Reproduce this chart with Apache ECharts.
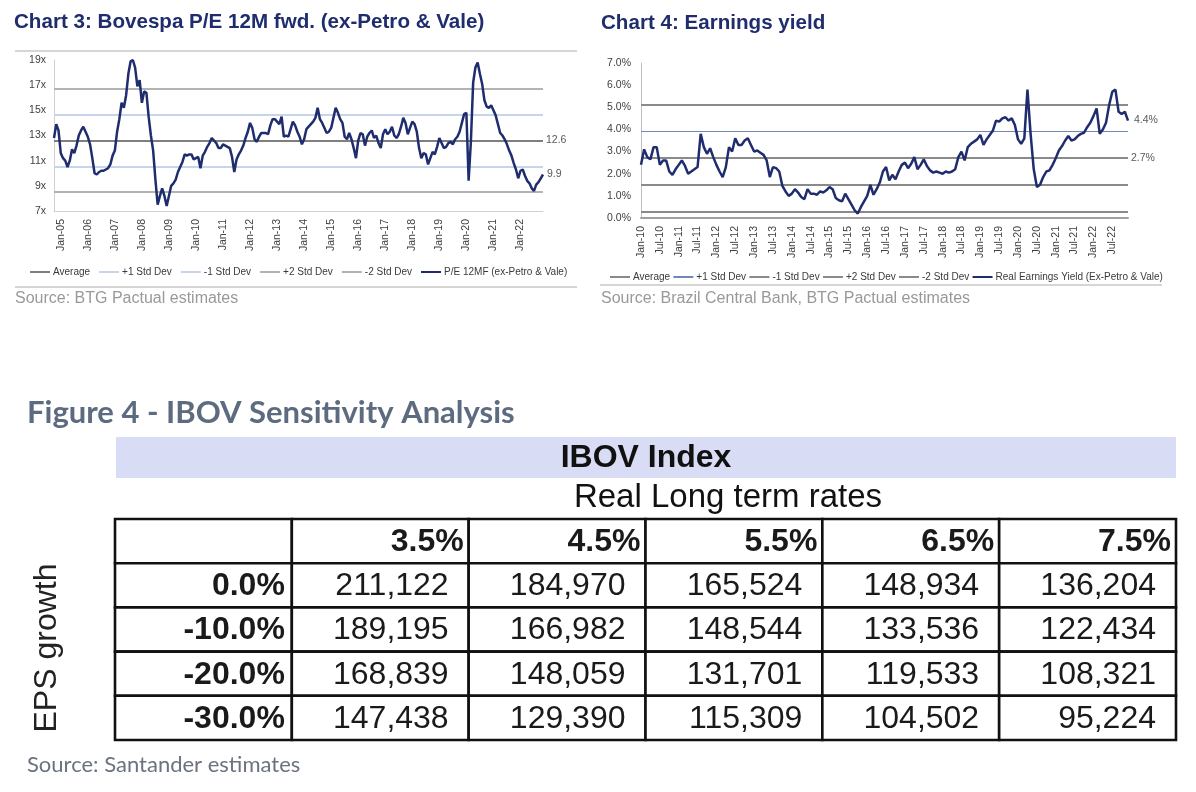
<!DOCTYPE html>
<html>
<head>
<meta charset="utf-8">
<script src="https://cdn.jsdelivr.net/npm/echarts@6/dist/echarts.min.js"></script>
<style>
    html, body, #main {
        width: 100%;
        height: 100%;
        margin: 0;
        background: #fff;
    }
</style>
</head>
<body>
<div id="main"></div>
<script type="text/javascript">
var ARIAL = '"Liberation Sans", Arial, sans-serif';
var NAVY = '#1f2d6e';

// Chart 3: monthly P/E 12M fwd, Oct-04 .. Nov-22
var peValues = [
    12.8, 13.9, 13.4, 11.6, 11.2, 11.0, 10.5, 11.0, 11.9, 11.6, 12.2, 13.0,
    13.4, 13.7, 13.3, 12.9, 12.3, 11.2, 10.0, 9.9, 10.1, 10.2, 10.2, 10.3,
    10.4, 10.7, 11.4, 11.8, 13.3, 14.3, 15.6, 15.2, 16.2, 17.9, 18.9, 19.0,
    18.4, 16.9, 17.4, 15.6, 16.5, 16.4, 14.5, 13.0, 11.8, 9.5, 7.5, 8.2,
    8.8, 8.2, 7.4, 8.2, 9.0, 9.2, 9.5, 10.1, 10.5, 10.9, 11.5, 11.4,
    11.5, 11.5, 11.1, 11.2, 11.3, 10.4, 11.4, 11.7, 12.1, 12.4, 12.8, 12.6,
    12.4, 12.0, 12.0, 12.3, 12.2, 12.1, 12.0, 11.3, 10.1, 11.1, 11.5, 11.8,
    12.2, 12.8, 13.3, 14.0, 13.6, 12.7, 12.5, 12.9, 13.2, 13.2, 13.2, 13.1,
    13.8, 14.3, 14.3, 14.1, 13.9, 14.5, 12.9, 13.0, 12.9, 13.5, 14.1, 13.8,
    13.3, 12.9, 12.3, 12.7, 13.5, 13.7, 13.9, 14.1, 14.4, 15.2, 14.3, 14.0,
    13.6, 13.2, 13.3, 13.6, 14.4, 15.2, 14.8, 14.3, 14.0, 12.9, 12.7, 13.2,
    12.7, 12.0, 11.2, 12.6, 13.2, 13.1, 12.2, 12.9, 13.2, 13.4, 12.8, 13.0,
    12.4, 12.0, 13.1, 13.5, 13.1, 13.3, 13.7, 13.0, 12.8, 13.1, 13.7, 14.4,
    14.0, 13.1, 13.6, 14.1, 13.9, 13.3, 12.0, 11.2, 11.6, 11.5, 10.7, 11.2,
    11.7, 11.5, 12.1, 12.8, 12.4, 12.0, 12.1, 12.4, 12.5, 12.3, 12.7, 12.9,
    13.3, 14.0, 14.7, 14.8, 9.4, 12.5, 17.2, 18.4, 18.8, 17.9, 17.1, 15.8,
    15.3, 15.2, 15.4, 15.0, 14.6, 13.9, 13.2, 13.0, 12.7, 12.3, 11.8, 11.4,
    10.8, 10.3, 9.6, 10.2, 10.3, 9.8, 9.4, 9.2, 8.8, 8.6, 9.1, 9.3,
    9.6, 9.9
];

// Chart 4: monthly real earnings yield (%), Jan-10 .. Dec-22
var eyValues = [
    2.4, 3.1, 2.75, 2.65, 3.2, 3.2, 2.4, 2.6, 2.6, 2.1, 1.95, 2.2,
    2.4, 2.6, 2.35, 2.0, 2.1, 2.2, 2.3, 3.8, 3.2, 2.9, 3.15, 2.75,
    2.4, 2.1, 1.85, 2.3, 3.2, 3.0, 3.6, 3.3, 3.3, 3.5, 3.6, 3.3,
    3.0, 3.05, 2.95, 2.85, 2.6, 1.85, 2.3, 2.25, 2.1, 1.45, 1.2, 1.0,
    1.1, 1.3, 1.15, 0.95, 0.85, 1.3, 1.1, 1.1, 1.05, 1.2, 1.15, 1.25,
    1.4, 1.3, 0.9, 0.8, 0.75, 1.1, 0.85, 0.6, 0.35, 0.2, 0.5, 0.75,
    1.0, 1.5, 1.05, 1.3, 1.6, 2.1, 2.3, 1.7, 1.95, 1.75, 2.1, 2.4,
    2.5, 2.25, 2.45, 2.75, 2.2, 2.4, 2.65, 2.35, 2.15, 2.05, 2.1, 2.05,
    2.0, 2.1, 2.05, 2.1, 2.2, 2.75, 3.0, 2.6, 3.2, 3.35, 3.45, 3.55,
    3.75, 3.3, 3.55, 3.75, 3.95, 4.4, 4.35, 4.5, 4.55, 4.4, 4.5, 4.2,
    3.55, 3.35, 3.6, 5.8, 3.8, 2.2, 1.4, 1.5, 1.85, 2.1, 2.15, 2.4,
    2.7, 3.05, 3.25, 3.5, 3.7, 3.5, 3.55, 3.7, 3.8, 3.85, 4.1, 4.3,
    4.6, 4.95, 3.8, 4.0, 4.3, 5.1, 5.7, 5.8, 4.8, 4.7, 4.8, 4.4
];

// average and standard deviation bands
var bandNames = ['Average', '+1 Std Dev', '-1 Std Dev', '+2 Std Dev', '-2 Std Dev'];
var peBandLevels = [12.6, 14.65, 10.55, 16.7, 8.5];
var eyBandLevels = [2.7, 3.9, 1.5, 5.1, 0.3];

// Figure 4 table
var rateCols = ['3.5%', '4.5%', '5.5%', '6.5%', '7.5%'];
var epsRows = ['0.0%', '-10.0%', '-20.0%', '-30.0%'];
var ibovValues = [
    [211122, 184970, 165524, 148934, 136204],
    [189195, 166982, 148544, 133536, 122434],
    [168839, 148059, 131701, 119533, 108321],
    [147438, 129390, 115309, 104502, 95224]
];

var MON = ['Jan', 'Feb', 'Mar', 'Apr', 'May', 'Jun', 'Jul', 'Aug', 'Sep', 'Oct', 'Nov', 'Dec'];
function monthCats(year, month, count) {
    var out = [];
    for (var i = 0; i < count; i++) {
        var m = (month + i) % 12;
        var y = year + Math.floor((month + i) / 12);
        out.push(MON[m] + '-' + String(y).slice(2));
    }
    return out;
}
var peCats = monthCats(2004, 9, peValues.length);
var eyCats = monthCats(2010, 0, eyValues.length);

var tableCells = [[0, 0, '', 'head']];
rateCols.forEach(function (r, c) { tableCells.push([c + 1, 0, r, 'head']); });
epsRows.forEach(function (e, r) {
    tableCells.push([0, r + 1, e, 'head']);
    ibovValues[r].forEach(function (v, c) {
        tableCells.push([c + 1, r + 1, v.toLocaleString('en-US'), 'value']);
    });
});

function bandSeries(levels, colors, widths, axis, suffix, fmt) {
    return bandNames.map(function (name, i) {
        return {
            name: name + suffix,
            type: 'line',
            xAxisIndex: axis,
            yAxisIndex: axis,
            data: [],
            symbol: 'none',
            color: colors[i],
            lineStyle: { width: widths[i], color: colors[i] },
            markLine: {
                silent: true,
                symbol: 'none',
                lineStyle: { color: colors[i], width: widths[i], type: 'solid' },
                label: i === 0 ? {
                    show: true, position: 'end', distance: 3,
                    formatter: function (p) { return fmt(p.value); },
                    color: '#595959', fontSize: 10.5, fontFamily: ARIAL
                } : { show: false },
                data: [{ yAxis: levels[i] }]
            }
        };
    });
}

function renderCell(params, api) {
    var cell = tableCells[params.dataIndex];
    var c = api.coord([api.value(0), api.value(1)]);
    var size = api.size([1, 1]);
    var left = c[0] - size[0] / 2, top = c[1] - size[1] / 2;
    var isValue = cell[3] === 'value';
    var pad = isValue ? 20 : (cell[1] === 0 ? 5 : 7);
    return {
        type: 'group',
        children: [{
            type: 'rect',
            shape: { x: left, y: top, width: size[0], height: size[1] },
            style: { fill: '#fff', stroke: '#111', lineWidth: 2.6 }
        }, {
            type: 'text',
            style: {
                text: cell[2],
                x: left + size[0] - pad,
                y: c[1] + 1,
                align: 'right',
                verticalAlign: 'middle',
                font: (isValue ? '' : 'bold ') + '32px ' + ARIAL,
                fill: '#1a1a1a'
            }
        }]
    };
}

var chart = echarts.init(document.getElementById('main'));

var axisLabel = { fontSize: 10.5, color: '#404040', fontFamily: ARIAL };
var legendText = { fontFamily: ARIAL, fontSize: 10, color: '#3a3a3a', padding: [0, 0, 0, -2] };

var option = {
    animation: false,
    backgroundColor: '#fff',
    title: [{
        text: 'Chart 3: Bovespa P/E 12M fwd. (ex-Petro & Vale)',
        left: 14, top: 12, padding: 0,
        textStyle: { fontFamily: ARIAL, fontWeight: 'bold', fontSize: 20.6, color: NAVY }
    }, {
        text: 'Chart 4: Earnings yield',
        left: 601, top: 13, padding: 0,
        textStyle: { fontFamily: ARIAL, fontWeight: 'bold', fontSize: 20.6, color: NAVY }
    }, {
        text: 'Source: BTG Pactual estimates',
        left: 15, top: 291, padding: 0,
        textStyle: { fontFamily: ARIAL, fontWeight: 'normal', fontSize: 16, color: '#999999' }
    }, {
        text: 'Source: Brazil Central Bank, BTG Pactual estimates',
        left: 601, top: 291, padding: 0,
        textStyle: { fontFamily: ARIAL, fontWeight: 'normal', fontSize: 16, color: '#999999' }
    }, {
        text: 'Figure 4 - IBOV Sensitivity Analysis',
        left: 27, top: 397, padding: 0,
        textStyle: { fontFamily: 'Lato, "Open Sans", sans-serif', fontWeight: 'bold', fontSize: 31, color: '#5d6b80' }
    }, {
        text: 'Source: Santander estimates',
        left: 27, top: 754, padding: 0,
        textStyle: { fontFamily: 'Lato, "Open Sans", sans-serif', fontWeight: 'normal', fontSize: 22, color: '#6b7280' }
    }],
    legend: [{
        left: 25, top: 262, width: 580, itemWidth: 20, itemHeight: 2, itemGap: 9,
        icon: 'rect', selectedMode: false,
        textStyle: legendText,
        data: bandNames.concat(['P/E 12MF (ex-Petro & Vale)'])
    }, {
        left: 605, top: 267, width: 590, itemWidth: 20, itemHeight: 2, itemGap: 3.3,
        icon: 'rect', selectedMode: false,
        formatter: function (name) { return name.trim(); },
        textStyle: legendText,
        data: bandNames.map(function (n) { return n + ' '; })
            .concat(['Real Earnings Yield (Ex-Petro & Vale)'])
    }],
    grid: [
        { left: 54, top: 60, width: 489, height: 151 },
        { left: 641, top: 63, width: 487, height: 155 },
        { left: 115, top: 519, width: 1061, height: 221 }
    ],
    xAxis: [{
        type: 'category', gridIndex: 0, data: peCats, boundaryGap: false,
        axisLine: { lineStyle: { color: '#d0d0d0', width: 1 } },
        axisTick: { show: false },
        axisLabel: Object.assign({
            rotate: 90, margin: 8,
            interval: function (i, v) { return v.indexOf('Jan') === 0; }
        }, axisLabel)
    }, {
        type: 'category', gridIndex: 1, data: eyCats, boundaryGap: false,
        axisLine: { lineStyle: { color: '#a0a0a0', width: 2 } },
        axisTick: { show: false },
        axisLabel: Object.assign({
            rotate: 90, margin: 8,
            interval: function (i) { return i % 6 === 0; }
        }, axisLabel)
    }, {
        type: 'category', gridIndex: 2, data: [''].concat(rateCols), show: false
    }],
    yAxis: [{
        type: 'value', gridIndex: 0, min: 7, max: 19, interval: 2,
        axisLine: { show: true, lineStyle: { color: '#d0d0d0' } },
        axisTick: { show: false },
        splitLine: { show: false },
        axisLabel: Object.assign({ formatter: '{value}x', margin: 8 }, axisLabel)
    }, {
        type: 'value', gridIndex: 1, min: 0, max: 7, interval: 1,
        axisLine: { show: true, lineStyle: { color: '#bfbfbf' } },
        axisTick: { show: false },
        splitLine: { show: false },
        axisLabel: Object.assign({
            formatter: function (v) { return v.toFixed(1) + '%'; }, margin: 10
        }, axisLabel)
    }, {
        type: 'category', gridIndex: 2, data: [''].concat(epsRows), inverse: true, show: false
    }],
    graphic: [
        { type: 'line', shape: { x1: 15, y1: 51, x2: 577, y2: 51 }, style: { stroke: '#c8c8c8', lineWidth: 1.5 } },
        { type: 'line', shape: { x1: 15, y1: 287, x2: 577, y2: 287 }, style: { stroke: '#c8c8c8', lineWidth: 1.5 } },
        { type: 'line', shape: { x1: 600, y1: 285, x2: 1162, y2: 285 }, style: { stroke: '#c8c8c8', lineWidth: 1.5 } },
        { type: 'rect', shape: { x: 116, y: 437, width: 1060, height: 41 }, style: { fill: '#d9dcf5' } },
        { type: 'text', x: 646, y: 458, style: { text: 'IBOV Index', align: 'center', verticalAlign: 'middle', font: 'bold 32px ' + ARIAL, fill: '#111' } },
        { type: 'text', x: 728, y: 498, style: { text: 'Real Long term rates', align: 'center', verticalAlign: 'middle', font: '33px ' + ARIAL, fill: '#111' } },
        { type: 'text', x: 47, y: 648, rotation: Math.PI / 2, style: { text: 'EPS growth', align: 'center', verticalAlign: 'middle', font: '32px ' + ARIAL, fill: '#222' } }
    ],
    series: bandSeries(peBandLevels, ['#7f7f7f', '#c6d4ee', '#c6d4ee', '#b3b3b3', '#b3b3b3'],
        [2, 2, 2, 2, 2], 0, '', function (v) { return v.toFixed(1); })
        .concat([{
            name: 'P/E 12MF (ex-Petro & Vale)',
            type: 'line', xAxisIndex: 0, yAxisIndex: 0, z: 5,
            data: peValues, symbol: 'none', color: NAVY,
            lineStyle: { width: 2.5, color: NAVY },
            endLabel: {
                show: true, distance: 4, color: '#595959', fontSize: 10.5, fontFamily: ARIAL,
                formatter: function (p) { return p.value.toFixed(1); }
            }
        }])
        .concat(bandSeries(eyBandLevels, ['#8a8a8a', '#6f88b8', '#8a8a8a', '#8a8a8a', '#8a8a8a'],
            [2, 1.2, 2, 2, 2], 1, ' ', function (v) { return v.toFixed(1) + '%'; }))
        .concat([{
            name: 'Real Earnings Yield (Ex-Petro & Vale)',
            type: 'line', xAxisIndex: 1, yAxisIndex: 1, z: 5,
            data: eyValues, symbol: 'none', color: NAVY,
            lineStyle: { width: 2.5, color: NAVY },
            endLabel: {
                show: true, distance: 6, color: '#595959', fontSize: 10.5, fontFamily: ARIAL,
                formatter: function (p) { return p.value.toFixed(1) + '%'; }
            }
        }, {
            name: 'table',
            type: 'custom', xAxisIndex: 2, yAxisIndex: 2,
            renderItem: renderCell,
            data: tableCells.map(function (c) { return [c[0], c[1]]; })
        }])
};
chart.setOption(option);
window.onresize = chart.resize;
</script>
</body>
</html>
